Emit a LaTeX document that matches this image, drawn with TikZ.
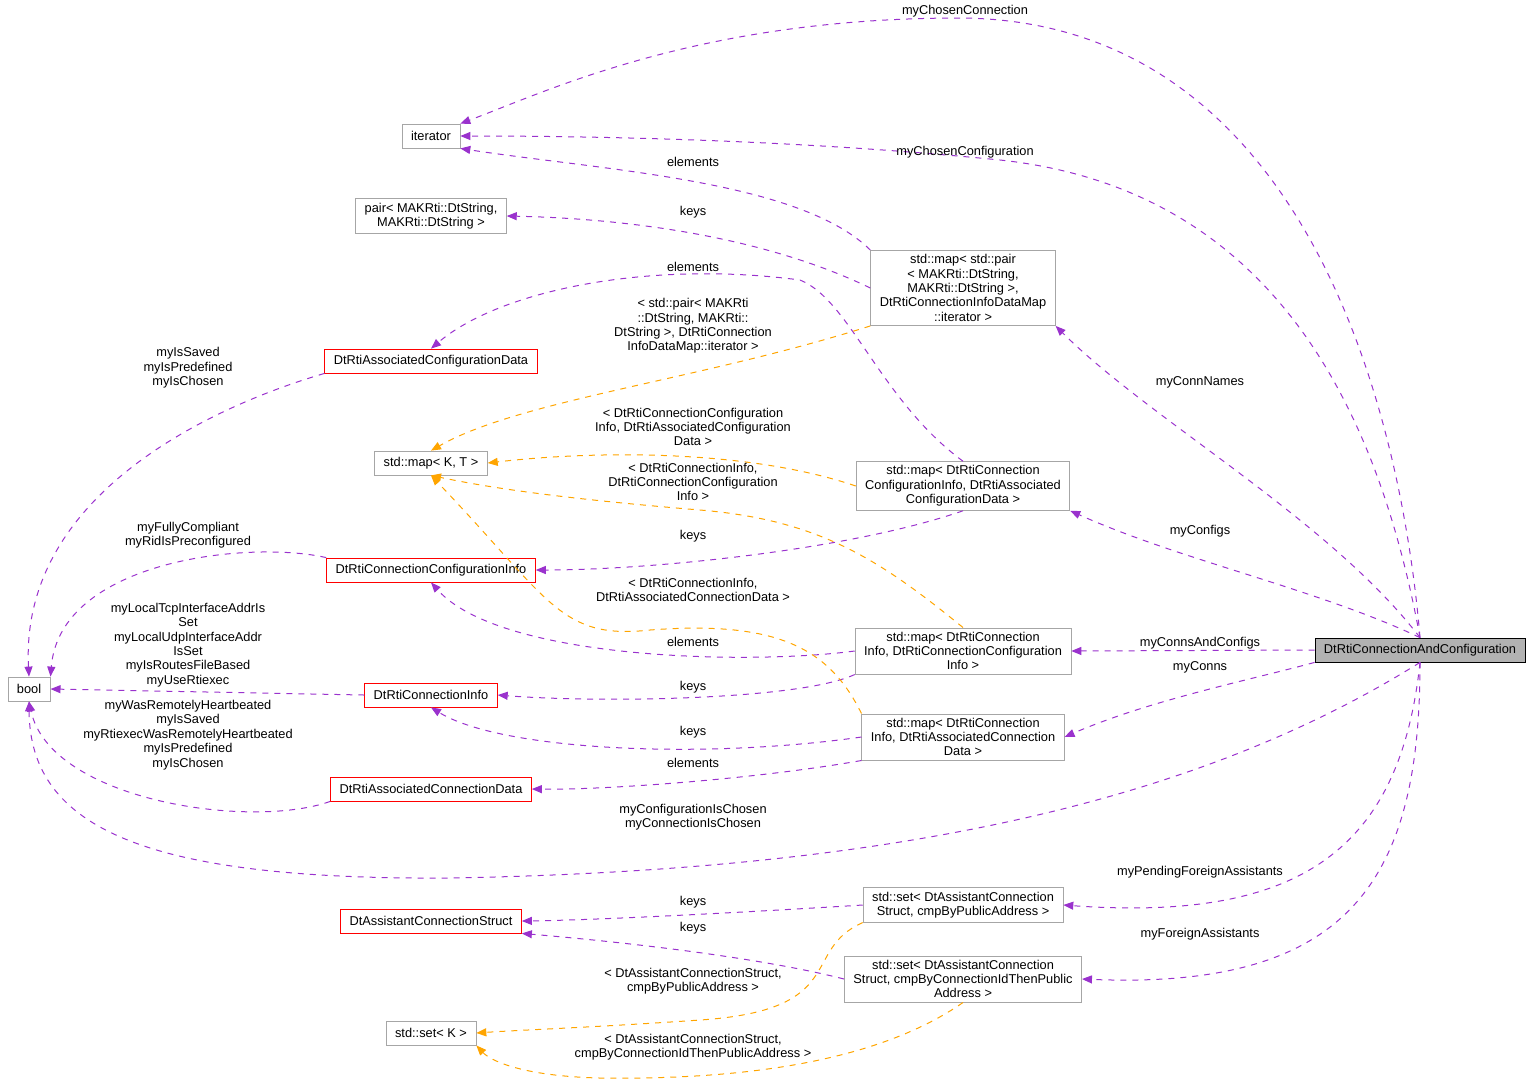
\documentclass[tikz,border=0pt]{standalone}
\usepackage{fontspec}
\setmainfont{Liberation Sans}
\usetikzlibrary{arrows.meta}
\definecolor{edgepurple}{HTML}{9A32CD}
\definecolor{edgeorange}{HTML}{FFA500}
\begin{document}
\begin{tikzpicture}[x=0.5pt,y=-0.5pt,
    font=\fontsize{6.4}{7.2}\selectfont,
    cls/.style={draw=gray!70, fill=white, inner xsep=4.5pt, inner ysep=2pt, minimum height=12pt, align=center, line width=0.4pt},
    red cls/.style={cls, draw=red},
    main cls/.style={cls, draw=black, fill=gray!60},
    use/.style={draw=edgepurple, dashed, line width=0.5pt, -{Triangle[width=4pt,length=5pt]}},
    tpl/.style={draw=edgeorange, dashed, line width=0.5pt, -{Triangle[width=4pt,length=5pt]}},
    lbl/.style={align=center, inner sep=0pt}]
    \useasboundingbox (0,0) rectangle (1536,1084);

    % classes
    \node[cls] (iterator) at (431,136) {iterator};
    \node[cls] (pair) at (431,216) {pair< MAKRti::DtString,\\MAKRti::DtString >};
    \node[cls] (mapPair) at (963,288) {std::map< std::pair\\< MAKRti::DtString,\\ MAKRti::DtString >,\\ DtRtiConnectionInfoDataMap\\::iterator >};
    \node[red cls] (assocConfData) at (431,361) {DtRtiAssociatedConfigurationData};
    \node[cls] (mapKT) at (431,463) {std::map< K, T >};
    \node[cls] (mapConfig) at (963,486) {std::map< DtRtiConnection\\ConfigurationInfo, DtRtiAssociated\\ConfigurationData >};
    \node[red cls] (connConfInfo) at (431,570) {DtRtiConnectionConfigurationInfo};
    \node[cls] (bool) at (29,689) {bool};
    \node[red cls] (connInfo) at (431,695) {DtRtiConnectionInfo};
    \node[cls] (mapConnsConfigs) at (963,651) {std::map< DtRtiConnection\\Info, DtRtiConnectionConfiguration\\Info >};
    \node[main cls] (main) at (1420,650) {DtRtiConnectionAndConfiguration};
    \node[cls] (mapConns) at (963,737) {std::map< DtRtiConnection\\Info, DtRtiAssociatedConnection\\Data >};
    \node[red cls] (assocConnData) at (431,789) {DtRtiAssociatedConnectionData};
    \node[cls] (setPub) at (963,905) {std::set< DtAssistantConnection\\Struct, cmpByPublicAddress >};
    \node[red cls] (assistStruct) at (431,921) {DtAssistantConnectionStruct};
    \node[cls] (setConnId) at (963,979) {std::set< DtAssistantConnection\\Struct, cmpByConnectionIdThenPublic\\Address >};
    \node[cls] (setK) at (431,1033) {std::set< K >};

    % members of the main class
    \draw[use] (main.north) .. controls (1400,400) and (1300,20) .. (960,18) .. controls (700,18) and (550,90) .. (iterator.north east);
    \node[lbl] (lChosenConn) at (965,11) {myChosenConnection};
    \draw[use] (main.north) .. controls (1380,420) and (1280,190) .. (1000,160) .. controls (800,140) and (600,136) .. (iterator.east);
    \node[lbl] (lChosenConf) at (965,152) {myChosenConfiguration};
    \draw[use] (main.north) .. controls (1330,520) and (1150,420) .. (mapPair.south east);
    \node[lbl] (lConnNames) at (1200,382) {myConnNames};
    \draw[use] (main.north) .. controls (1320,590) and (1180,560) .. (mapConfig.south east);
    \node[lbl] (lConfigs) at (1200,531) {myConfigs};
    \draw[use] (main.west) -- (mapConnsConfigs.east);
    \node[lbl] (lConnsConfigs) at (1200,643) {myConnsAndConfigs};
    \draw[use] (main.south west) .. controls (1250,680) and (1150,700) .. (mapConns.east);
    \node[lbl] (lConns) at (1200,667) {myConns};
    \draw[use] (main.south) .. controls (1200,800) and (900,870) .. (450,878) .. controls (150,880) and (30,830) .. (bool.south);
    \node[lbl] (lIsChosen) at (693,817) {myConfigurationIsChosen\\myConnectionIsChosen};
    \draw[use] (main.south) .. controls (1400,850) and (1300,922) .. (setPub.east);
    \node[lbl] (lPending) at (1200,872) {myPendingForeignAssistants};
    \draw[use] (main.south) .. controls (1420,880) and (1350,990) .. (setConnId.east);
    \node[lbl] (lForeign) at (1200,934) {myForeignAssistants};

    % containers
    \draw[use] (mapPair.north west) .. controls (800,180) and (600,170) .. (iterator.south east);
    \node[lbl] (lElem1) at (693,162) {elements};
    \draw[use] (mapPair.west) .. controls (750,230) and (600,218) .. (pair.east);
    \node[lbl] (lKeys1) at (693,212) {keys};
    \draw[use] (mapConfig.north) .. controls (880,400) and (850,300) .. (800,280) .. controls (650,260) and (500,290) .. (assocConfData.north);
    \node[lbl] (lElem2) at (693,267) {elements};
    \draw[use] (mapConfig.south) .. controls (850,550) and (650,570) .. (connConfInfo.east);
    \node[lbl] (lKeys2) at (693,536) {keys};
    \draw[use] (mapConnsConfigs.west) .. controls (750,665) and (500,660) .. (connConfInfo.south);
    \node[lbl] (lElem3) at (693,642) {elements};
    \draw[use] (mapConnsConfigs.south west) .. controls (800,700) and (600,703) .. (connInfo.east);
    \node[lbl] (lKeys3) at (693,687) {keys};
    \draw[use] (mapConns.west) .. controls (700,760) and (500,750) .. (connInfo.south);
    \node[lbl] (lKeys4) at (693,732) {keys};
    \draw[use] (mapConns.south west) .. controls (750,780) and (600,790) .. (assocConnData.east);
    \node[lbl] (lElem4) at (693,763) {elements};
    \draw[use] (setPub.west) .. controls (750,912) and (600,920) .. (assistStruct.east);
    \node[lbl] (lKeys5) at (693,902) {keys};
    \draw[use] (setConnId.west) .. controls (750,955) and (600,940) .. (assistStruct.south east);
    \node[lbl] (lKeys6) at (693,928) {keys};

    % members of the data classes
    \draw[use] (assocConfData.south west) .. controls (200,410) and (20,500) .. (bool.north);
    \node[lbl] (lSaved1) at (188,368) {myIsSaved\\myIsPredefined\\myIsChosen};
    \draw[use] (connConfInfo.north west) .. controls (250,540) and (60,560) .. (bool.north east);
    \node[lbl] (lCompliant) at (188,535) {myFullyCompliant\\myRidIsPreconfigured};
    \draw[use] (connInfo.west) -- (bool.east);
    \node[lbl] (lTcp) at (188,645) {myLocalTcpInterfaceAddrIs\\Set\\myLocalUdpInterfaceAddr\\IsSet\\myIsRoutesFileBased\\myUseRtiexec};
    \draw[use] (assocConnData.south west) .. controls (250,830) and (50,800) .. (bool.south);
    \node[lbl] (lHeart) at (188,735) {myWasRemotelyHeartbeated\\myIsSaved\\myRtiexecWasRemotelyHeartbeated\\myIsPredefined\\myIsChosen};

    % template instances
    \draw[tpl] (mapPair.south west) .. controls (700,380) and (520,400) .. (mapKT.north);
    \node[lbl] (lTpl1) at (693,326) {< std::pair< MAKRti\\::DtString, MAKRti::\\DtString >, DtRtiConnection\\InfoDataMap::iterator >};
    \draw[tpl] (mapConfig.west) .. controls (750,450) and (600,450) .. (mapKT.east);
    \node[lbl] (lTpl2) at (693,427) {< DtRtiConnectionConfiguration\\Info, DtRtiAssociatedConfiguration\\Data >};
    \draw[tpl] (mapConnsConfigs.north) .. controls (880,560) and (820,520) .. (700,510) .. controls (580,500) and (500,490) .. (mapKT.south);
    \node[lbl] (lTpl3) at (693,482) {< DtRtiConnectionInfo,\\DtRtiConnectionConfiguration\\Info >};
    \draw[tpl] (mapConns.north west) .. controls (830,650) and (780,620) .. (650,630) .. controls (560,640) and (550,600) .. (mapKT.south);
    \node[lbl] (lTpl4) at (693,590) {< DtRtiConnectionInfo,\\DtRtiAssociatedConnectionData >};
    \draw[tpl] (setPub.south west) .. controls (800,950) and (850,1010) .. (700,1020) .. controls (600,1027) and (520,1030) .. (setK.east);
    \node[lbl] (lTpl5) at (693,981) {< DtAssistantConnectionStruct,\\cmpByPublicAddress >};
    \draw[tpl] (setConnId.south) .. controls (880,1060) and (750,1080) .. (600,1078) .. controls (520,1076) and (490,1060) .. (setK.south east);
    \node[lbl] (lTpl6) at (693,1047) {< DtAssistantConnectionStruct,\\cmpByConnectionIdThenPublicAddress >};
\end{tikzpicture}
\end{document}
